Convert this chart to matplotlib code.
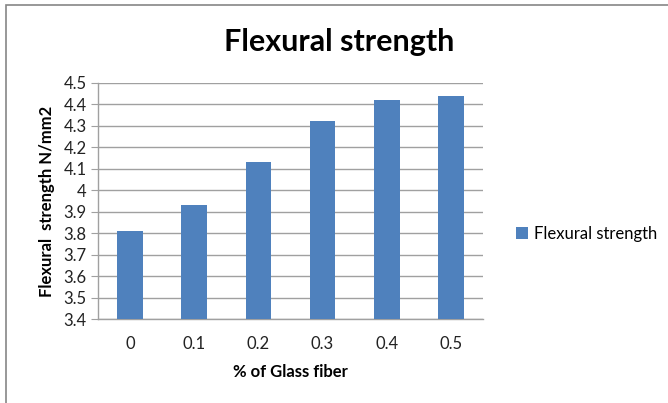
import matplotlib.pyplot as plt
from matplotlib.patches import Rectangle

plt.rcParams['font.family'] = ['Lato', 'DejaVu Sans']

glass_fiber = ['0', '0.1', '0.2', '0.3', '0.4', '0.5']
strength = [3.81, 3.93, 4.13, 4.32, 4.42, 4.44]
y_ticks = [3.4, 3.5, 3.6, 3.7, 3.8, 3.9, 4.0, 4.1, 4.2, 4.3, 4.4, 4.5]
y_labels = ['3.4', '3.5', '3.6', '3.7', '3.8', '3.9', '4', '4.1', '4.2', '4.3', '4.4', '4.5']

fig = plt.figure(figsize=(6.68, 4.03), dpi=100)
ax = fig.add_axes([0.1467, 0.2077, 0.5763, 0.5871])

# chart border (only top/left visible in the original)
fig.patches.append(Rectangle((6 / 668, -0.1), 1.2, 1.1 - 5 / 403, transform=fig.transFigure,
                             fill=False, edgecolor='#868686', linewidth=1.2))

x = list(range(len(glass_fiber)))
ax.bar(x, strength, width=0.4, bottom=0, color='#4F81BD', zorder=3, label='Flexural strength')

ax.set_xlim(-0.5, len(glass_fiber) - 0.5)
ax.set_ylim(3.4, 4.5)
ax.set_yticks(y_ticks)
ax.set_yticklabels(y_labels)
ax.set_xticks(x)
ax.set_xticklabels(glass_fiber)

ax.grid(axis='y', color='#A0A0A0', linewidth=1, zorder=0)
for s in ['top', 'right']:
    ax.spines[s].set_visible(False)
for s in ['left', 'bottom']:
    ax.spines[s].set_color('#A0A0A0')
    ax.spines[s].set_linewidth(1)
ax.tick_params(axis='y', length=5, color='#A0A0A0', labelsize=12, labelcolor='#222222', pad=3)
ax.tick_params(axis='x', length=0, labelsize=12, labelcolor='#222222', pad=12)

ax.set_ylabel('Flexural  strength N/mm2', fontsize=12, fontweight='bold', labelpad=6)
ax.set_xlabel('% of Glass fiber', fontsize=12, fontweight='bold', labelpad=9)

fig.text(0.508, 0.897, 'Flexural strength', ha='center', va='center',
         fontsize=22, fontweight='bold')

fig.legend(loc='center left', bbox_to_anchor=(0.75, 0.42), frameon=False,
           fontsize=12, handlelength=0.7, handleheight=0.7, handletextpad=0.4)

fig.savefig('out.png', dpi=100)
